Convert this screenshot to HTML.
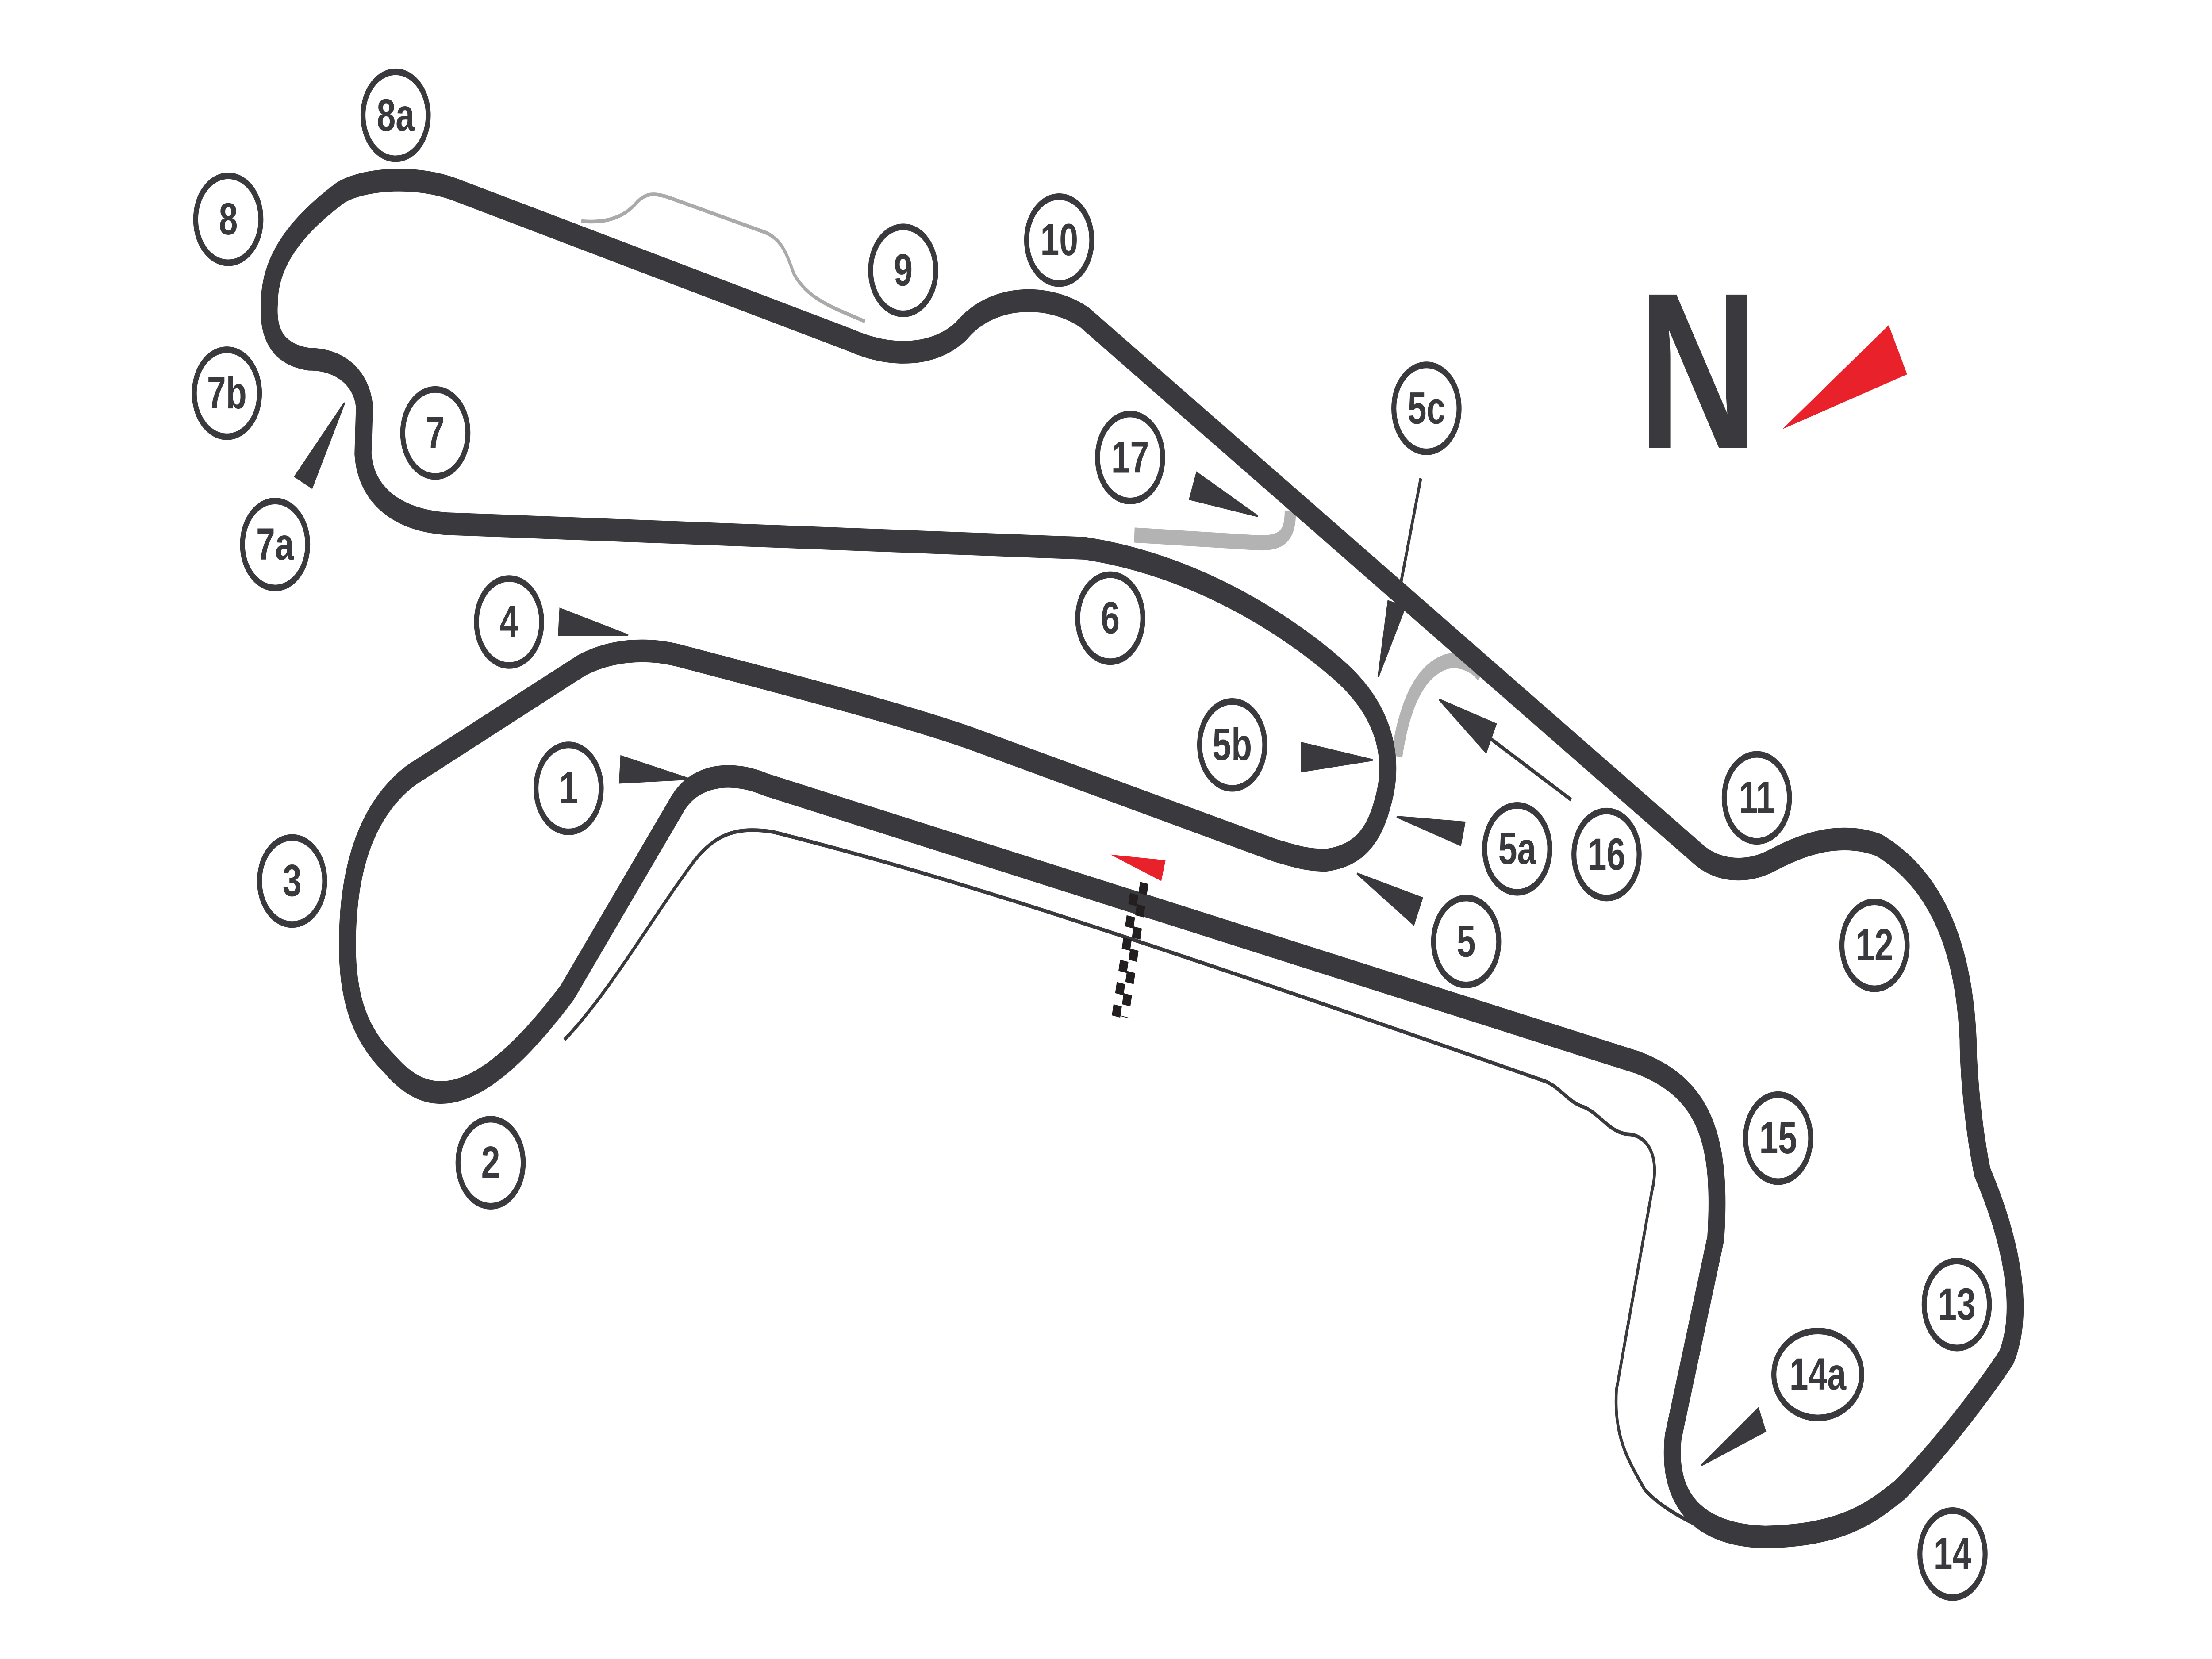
<!DOCTYPE html>
<html><head><meta charset="utf-8"><style>
html,body{margin:0;padding:0;background:#fff;overflow:hidden;width:100%;height:100%;}
svg{display:block;position:fixed;left:0;top:0;width:100vw;height:100vh;}
text{font-family:"Liberation Sans",sans-serif;font-weight:bold;fill:#3a393e;}
</style></head><body>
<svg viewBox="0 0 1560 877.5" preserveAspectRatio="none" xmlns="http://www.w3.org/2000/svg">
<rect width="1560" height="877.5" fill="#fff"/>
<path d="M410,117 C425,118 438,116 448,108 C455,102 460,102 470,104 L540,123 C552,127 555,135 560,145 C570,158 585,162 610,170" fill="none" stroke="#aaa" stroke-width="2"/>
<path d="M800,283 L885,287 C905,288 910,283 910,270" fill="none" stroke="#b3b3b3" stroke-width="8"/>
<path d="M985,400 C990,375 1000,355 1020,350 C1030,348 1040,352 1045,357" fill="none" stroke="#b3b3b3" stroke-width="8"/>
<path d="M398,550 C430,525 460,485 490,455 C505,441 520,437 545,440 C650,460 760,485 1090,572 C1100,575 1105,582 1115,585 C1128,588 1135,600 1150,600 C1165,602 1170,615 1165,630 L1140,735 C1138,760 1148,772 1160,788 C1175,800 1195,806 1212,812" fill="none" stroke="#3a393e" stroke-width="2"/>
<path d="M540,415 L1155,562 C1200,575 1215,600 1210,655 L1180,760 C1175,795 1200,812 1245,813 C1300,812 1320,800 1340,788 C1370,765 1400,735 1415,718 C1430,690 1415,650 1398,620 C1390,590 1388,560 1388,550 C1385,500 1365,465 1325,447 C1300,440 1275,445 1250,455 C1230,463 1210,460 1198,452 L765,168 C740,155 700,155 678,175 C660,188 630,190 600,180 L320,100 C290,92 255,95 240,102 C215,116 190,135 190,160 C188,180 200,188 218,190 C240,190 255,200 257,215 L256,240 C258,262 280,275 315,277 L765,290 C850,300 915,335 945,355 C975,375 985,400 975,425 C968,445 955,453 935,455 C920,455 910,452 900,450 L690,392 C640,378 520,355 480,347 C455,342 430,344 410,352 L290,410 C255,430 245,465 245,500 C245,530 255,548 275,563 C300,585 335,590 400,525 L478,425 C490,410 515,407 540,415 Z" fill="none" stroke="#3a393e" stroke-width="12" stroke-linejoin="round"/>
<line x1="807" y1="467" x2="793" y2="538" stroke="#231f20" stroke-width="6" stroke-dasharray="6 6"/>
<line x1="801" y1="467" x2="787" y2="538" stroke="#231f20" stroke-width="6" stroke-dasharray="6 6" stroke-dashoffset="6"/>
<polygon points="783,452 822,455 819,466" fill="#e8212a"/>
<g fill="#3a393e" stroke="#3a393e">
<polygon points="208,252 220,258 243,213"/>
<polygon points="395,322 394,336 443,336"/>
<polygon points="438,400 437,414 486,412"/>
<polygon points="844,250 839,264 887,273"/>
<polygon points="918,393 918,408 968,402"/>
<line x1="1002" y1="253" x2="985" y2="320" stroke-width="2"/>
<polygon points="979,318 991,321 972,358"/>
<line x1="1108" y1="423" x2="1050" y2="390" stroke-width="2"/>
<polygon points="1015,370 1055,383 1048,398"/>
<polygon points="985,432 1033,435 1030,447"/>
<polygon points="957,462 1003,475 997,489"/>
<polygon points="1200,775 1240,745 1245,757"/>
</g>
<text x="1155" y="237" font-size="118">N</text>
<polygon points="1257,227 1332,172 1345,198" fill="#e8212a"/>
<g fill="none" stroke="#3a393e" stroke-width="3.5">
<ellipse cx="279" cy="61" rx="23" ry="23"/>
<ellipse cx="161" cy="116" rx="23" ry="23"/>
<ellipse cx="637" cy="143" rx="23" ry="23"/>
<ellipse cx="747" cy="127" rx="23" ry="23"/>
<ellipse cx="160" cy="208" rx="23" ry="23"/>
<ellipse cx="307" cy="229" rx="23" ry="23"/>
<ellipse cx="194" cy="288" rx="23" ry="23"/>
<ellipse cx="797" cy="242" rx="23" ry="23"/>
<ellipse cx="1006" cy="216" rx="23" ry="23"/>
<ellipse cx="359" cy="329" rx="23" ry="23"/>
<ellipse cx="783" cy="327" rx="23" ry="23"/>
<ellipse cx="869" cy="394" rx="23" ry="23"/>
<ellipse cx="401" cy="417" rx="23" ry="23"/>
<ellipse cx="206" cy="466" rx="23" ry="23"/>
<ellipse cx="1239" cy="422" rx="23" ry="23"/>
<ellipse cx="1133" cy="452" rx="23" ry="23"/>
<ellipse cx="1070" cy="449" rx="23" ry="23"/>
<ellipse cx="1034" cy="498" rx="23" ry="23"/>
<ellipse cx="1322" cy="500" rx="23" ry="23"/>
<ellipse cx="346" cy="615" rx="23" ry="23"/>
<ellipse cx="1254" cy="602" rx="23" ry="23"/>
<ellipse cx="1380" cy="690" rx="23" ry="23"/>
<ellipse cx="1282" cy="727" rx="31" ry="23"/>
<ellipse cx="1377" cy="822" rx="23" ry="23"/>
</g>
<g font-size="24" text-anchor="middle">
<text x="279" y="69">8a</text>
<text x="161" y="124">8</text>
<text x="637" y="151">9</text>
<text x="747" y="135">10</text>
<text x="160" y="216">7b</text>
<text x="307" y="237">7</text>
<text x="194" y="296">7a</text>
<text x="797" y="250">17</text>
<text x="1006" y="224">5c</text>
<text x="359" y="337">4</text>
<text x="783" y="335">6</text>
<text x="869" y="402">5b</text>
<text x="401" y="425">1</text>
<text x="206" y="474">3</text>
<text x="1239" y="430">11</text>
<text x="1133" y="460">16</text>
<text x="1070" y="457">5a</text>
<text x="1034" y="506">5</text>
<text x="1322" y="508">12</text>
<text x="346" y="623">2</text>
<text x="1254" y="610">15</text>
<text x="1380" y="698">13</text>
<text x="1282" y="735">14a</text>
<text x="1377" y="830">14</text>
</g>
</svg>
</body></html>
